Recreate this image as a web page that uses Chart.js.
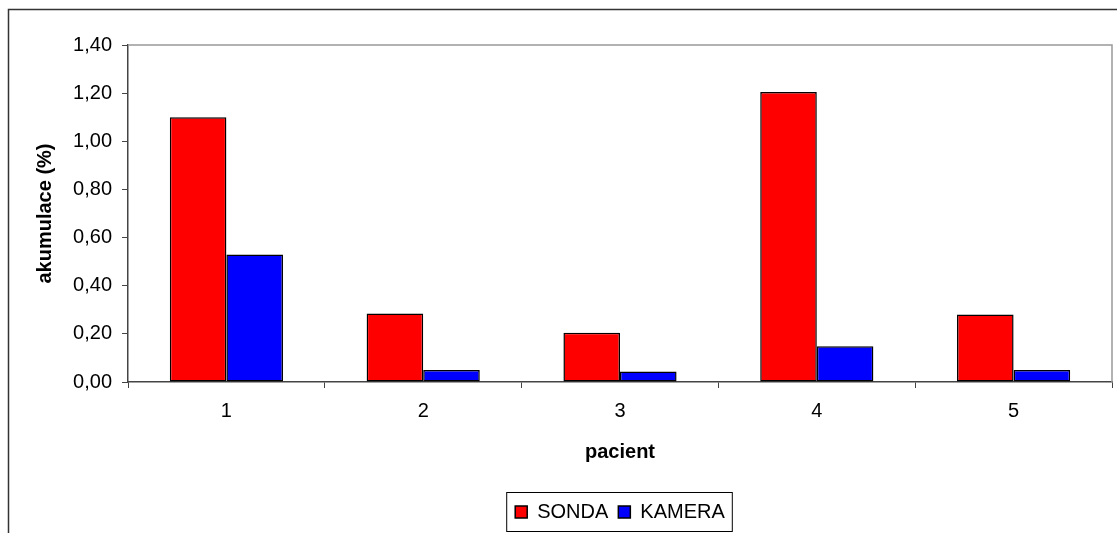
<!DOCTYPE html>
<html>
<head>
<meta charset="utf-8">
<script src="https://cdn.jsdelivr.net/npm/chart.js@4/dist/chart.umd.min.js"></script>
<style>
  html, body { margin: 0; padding: 0; background: #fff; }
  #wrap { width: 1117px; height: 533px; }
</style>
</head>
<body>
<div id="wrap"><canvas id="accChart" width="1117" height="533"></canvas></div>
<script>
const patients = ['1', '2', '3', '4', '5'];
const sondaValues = [1.10, 0.285, 0.205, 1.205, 0.28];
const kameraValues = [0.53, 0.05, 0.044, 0.148, 0.05];
const yTicks = [0, 0.2, 0.4, 0.6, 0.8, 1.0, 1.2, 1.4];

const chartElement = document.getElementById('accChart');
const fontFamily = 'Liberation Sans, Arial';
const fontSize = 20;

// frame around the chart, plot border on top/right, box around the legend
const framePlugin = {
    id: 'frame',
    afterDraw(chart) {
        const ctx = chart.ctx;
        const area = chart.chartArea;
        ctx.save();
        ctx.strokeStyle = '#333';
        ctx.lineWidth = 1.5;
        ctx.beginPath();
        ctx.moveTo(8.5, 540);
        ctx.lineTo(8.5, 9.5);
        ctx.lineTo(1120, 9.5);
        ctx.stroke();

        ctx.strokeStyle = '#999';
        ctx.beginPath();
        ctx.moveTo(area.left, area.top);
        ctx.lineTo(area.right, area.top);
        ctx.lineTo(area.right, area.bottom);
        ctx.stroke();

        const boxes = chart.legend.legendHitBoxes;
        if (boxes && boxes.length) {
            const first = boxes[0];
            const last = boxes[boxes.length - 1];
            ctx.strokeStyle = '#000';
            ctx.lineWidth = 1;
            ctx.strokeRect(first.left - 8.5, chart.legend.top + 0.5, last.left + last.width - first.left + 16, chart.legend.height - 1);
        }
        ctx.restore();
    }
};

new Chart(chartElement, {
    type: 'bar',
    data: {
        labels: patients,
        datasets: [
            {
                label: 'SONDA',
                data: sondaValues,
                backgroundColor: '#ff0000',
                borderColor: '#000',
                borderWidth: 1.5,
                borderSkipped: false,
                barPercentage: 1,
                categoryPercentage: 0.575
            },
            {
                label: 'KAMERA',
                data: kameraValues,
                backgroundColor: '#0000ff',
                borderColor: '#000',
                borderWidth: 1.5,
                borderSkipped: false,
                barPercentage: 1,
                categoryPercentage: 0.575
            }
        ]
    },
    options: {
        responsive: false,
        animation: false,
        layout: { padding: { left: 0, top: 45, right: 5, bottom: 1 } },
        plugins: {
            tooltip: { enabled: false },
            legend: {
                position: 'bottom',
                fullSize: false,
                labels: {
                    color: '#000',
                    font: { family: fontFamily, size: fontSize },
                    boxWidth: 12,
                    boxHeight: 12,
                    padding: 10,
                    generateLabels(chart) {
                        return chart.data.datasets.map((ds, i) => ({
                            text: ds.label,
                            fillStyle: ds.backgroundColor,
                            strokeStyle: '#000',
                            lineWidth: 1.5,
                            datasetIndex: i
                        }));
                    }
                }
            }
        },
        scales: {
            x: {
                afterFit(scale) { scale.height = 110; },
                grid: {
                    display: true,
                    drawOnChartArea: false,
                    drawTicks: true,
                    tickLength: 6,
                    color: '#444',
                    offset: true
                },
                border: { color: '#444', width: 1.5 },
                ticks: {
                    color: '#000',
                    padding: 11,
                    font: { family: fontFamily, size: fontSize }
                },
                title: {
                    display: true,
                    text: 'pacient',
                    color: '#000',
                    padding: { top: 4, bottom: 28 },
                    font: { family: fontFamily, size: fontSize, weight: 'bold' }
                }
            },
            y: {
                min: 0,
                max: 1.4,
                afterFit(scale) { scale.width = 128; },
                afterBuildTicks(scale) { scale.ticks = yTicks.map(v => ({ value: v })); },
                grid: {
                    display: true,
                    drawOnChartArea: false,
                    drawTicks: true,
                    tickLength: 6,
                    color: '#444'
                },
                border: { color: '#444', width: 1.5 },
                ticks: {
                    color: '#000',
                    padding: 10,
                    font: { family: fontFamily, size: fontSize },
                    callback: v => v.toFixed(2).replace('.', ',')
                },
                title: {
                    display: true,
                    text: 'akumulace (%)',
                    color: '#000',
                    padding: { top: 33, bottom: 0 },
                    font: { family: fontFamily, size: fontSize, weight: 'bold' }
                }
            }
        }
    },
    plugins: [framePlugin]
});
</script>
</body>
</html>
